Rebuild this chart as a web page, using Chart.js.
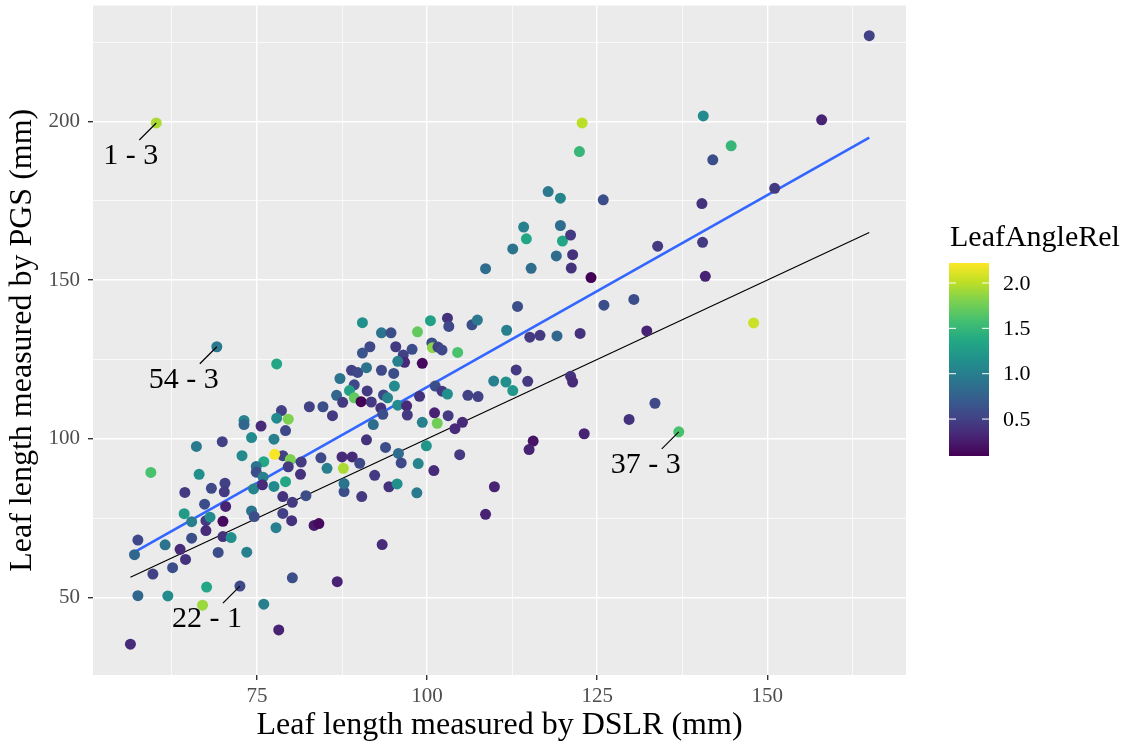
<!DOCTYPE html>
<html>
<head>
<meta charset="utf-8">
<script src="https://cdn.jsdelivr.net/npm/chart.js@4.4.0/dist/chart.umd.min.js"></script>
<style>
  html, body { margin: 0; padding: 0; background: #fff; }
  #wrap { width: 1126px; height: 745px; }
</style>
</head>
<body>
<div id="wrap"><canvas id="myChart" width="1126" height="745"></canvas></div>
<script>
// leaf length by DSLR (x), by PGS (y), relative leaf angle (colour)
const dslr = [60.2,122.8,122.4,117.8,119.6,125.9,114.2,119.6,165.0,140.6,158.0,144.7,142.0,151.1,140.4,
  114.6,119.9,121.1,112.6,119.0,121.4,108.6,115.3,121.2,124.1,113.3,126.0,130.4,111.7,115.1,116.6,119.1,122.5,
  133.9,140.5,140.9,148.0,132.3,133.5,137.0,121.1,121.4,129.7,123.1,115.6,115.0,113.1,114.8,109.8,111.6,112.6,
  90.5,93.3,94.7,98.6,100.5,103.0,103.2,106.6,107.4,91.6,90.5,95.4,97.8,96.5,96.7,95.7,99.3,100.7,100.8,101.6,
  102.2,104.5,93.3,95.1,95.2,88.9,89.8,91.1,87.2,89.3,88.6,89.3,91.2,86.7,90.3,87.6,91.8,93.6,94.2,93.2,93.5,
  95.7,97.0,97.1,98.9,101.2,102.2,103.0,86.1,92.1,99.3,101.1,101.5,103.1,106.0,107.5,104.1,105.2,91.1,93.9,
  95.8,96.2,99.9,98.7,101.0,104.8,92.3,94.4,95.6,98.5,90.4,87.8,87.8,109.9,108.6,93.4,87.5,89.0,87.7,90.1,
  85.3,84.4,81.5,78.8,79.9,77.6,76.0,74.9,74.9,79.6,81.4,75.9,79.2,77.5,74.5,75.8,66.5,59.4,64.4,68.3,70.3,
  70.2,67.3,70.4,64.3,65.4,67.5,68.1,67.5,65.4,70.0,70.0,71.2,74.2,74.6,78.8,80.2,78.8,80.1,82.2,83.4,84.1,
  77.8,69.3,73.5,63.7,64.5,61.5,57.5,57.0,62.6,59.7,67.6,72.5,57.5,61.9,67.0,76.0,80.2,86.8,78.2,56.4,
  69.1,77.9,82.7,84.7,78.6,77.9,79.6,73.1,73.1,75.6,79.2,74.2,77.5,69.9,66.1,72.8];
const pgs = [199.5,199.5,190.5,177.9,175.8,175.3,166.7,167.2,227.0,201.7,200.5,192.3,187.9,178.9,174.1,
  163.0,162.3,164.2,159.8,157.6,158.0,153.6,153.7,153.8,150.8,141.7,142.1,143.9,134.2,132.0,132.6,132.4,133.2,
  160.7,161.9,151.2,136.5,134.0,111.2,102.2,119.7,117.9,106.1,101.6,99.3,96.6,121.7,118.1,118.2,117.9,115.2,
  136.6,133.4,133.4,133.7,137.2,138.0,135.4,135.9,137.4,129.0,127.0,129.0,128.2,126.4,124.1,124.4,123.8,130.2,128.7,128.9,
  128.0,127.2,121.6,120.6,116.6,121.6,120.9,122.4,119.0,117.0,115.2,112.9,115.1,113.7,111.7,111.5,111.6,113.8,112.9,109.7,107.7,
  110.6,110.4,107.5,113.4,116.6,115.0,114.1,107.3,104.5,105.2,108.2,104.9,107.3,113.7,113.3,103.2,105.2,99.7,97.3,
  95.4,92.4,97.8,92.2,90.0,95.0,88.5,84.9,85.8,83.0,81.8,83.4,85.9,84.9,76.2,66.7,94.3,94.3,90.7,92.3,
  90.7,94.0,92.7,94.7,93.5,95.1,92.8,91.3,89.5,91.2,88.8,87.9,86.5,85.0,84.2,85.5,88.8,89.4,83.1,84.4,86.0,
  83.3,79.4,78.7,76.4,73.9,74.2,75.3,71.1,68.7,74.0,69.2,68.9,77.3,75.5,81.8,80.0,76.5,74.2,82.1,72.7,73.3,
  72.0,64.2,64.3,65.2,62.0,66.6,68.1,63.5,59.4,57.4,53.3,53.6,50.6,50.5,47.6,47.9,56.2,55.0,39.8,35.3,
  129.0,123.6,110.1,110.1,108.9,106.5,106.2,105.8,104.5,104.0,102.6,100.4,99.9,99.1,97.6,94.7];
const angleRel = [1.95,2.0,1.5,0.95,1.05,0.6,1.0,0.85,0.5,1.1,0.3,1.5,0.6,0.45,0.4,
  1.35,1.35,0.45,0.9,0.85,0.4,0.85,0.85,0.4,0.1,0.6,0.6,0.6,1.0,0.45,0.45,0.8,0.4,
  0.45,0.45,0.3,2.05,0.3,0.55,1.6,0.4,0.35,0.4,0.3,0.2,0.3,0.45,0.45,1.0,1.15,1.2,
  1.15,0.9,0.6,1.7,1.3,0.4,0.55,0.6,0.95,0.55,0.65,0.45,0.6,0.5,0.35,1.0,0.15,0.6,1.85,0.5,
  0.55,1.6,0.55,0.6,1.1,0.5,0.55,0.9,0.9,0.55,1.3,1.7,0.45,0.8,0.1,0.45,0.45,0.55,1.05,0.4,0.6,
  1.1,0.35,0.45,0.4,0.6,0.45,1.15,0.45,0.85,1.0,0.3,1.75,0.45,0.5,0.5,0.35,0.35,0.4,0.6,
  0.85,0.55,1.2,1.05,0.35,0.45,0.45,0.4,1.15,0.95,0.45,0.6,0.9,0.3,0.3,0.35,0.35,0.35,1.95,0.55,
  1.0,0.55,0.45,0.5,1.8,2.2,1.35,0.9,0.6,0.45,0.4,1.0,1.35,1.1,1.05,0.35,1.15,1.6,0.45,0.55,0.5,
  0.45,0.6,0.3,1.25,1.0,0.45,1.1,0.35,0.6,0.15,0.4,1.15,0.9,0.6,0.4,0.45,0.5,0.4,0.6,0.25,0.15,
  1.0,0.6,1.0,0.35,0.4,0.9,0.55,0.8,0.6,0.5,1.35,0.55,0.8,1.1,1.9,1.0,0.6,0.3,0.3,0.35,
  0.95,1.35,0.5,0.6,0.5,1.1,1.8,1.05,0.8,0.35,0.55,1.1,1.0,0.5,0.95,1.1];

// fitted line (lm) and 1:1 line
const lmX = [56.4, 165.0];
const lmY = [63.6, 194.9];
const refX = [56.4, 165.0];
const refY = [56.4, 165.0];

// labelled leaves
const labelText = ['1 - 3', '54 - 3', '22 - 1', '37 - 3'];
const labelX = [60.2, 69.1, 72.5, 137.0];
const labelY = [199.5, 129.0, 53.6, 102.2];

// axes and colour bar
const xMin = 50.9, xMax = 170.4;
const yMin = 25.6, yMax = 236.5;
const colourMin = 0.093, colourMax = 2.22;
const colourTicks = [0.5, 1.0, 1.5, 2.0];

const viridis = ['#440154','#482475','#414487','#355F8D','#2A788E','#21918C','#22A884','#44BF70','#7AD151','#BDDF26','#FDE725'];

function hexRgb(h) {
  return [parseInt(h.slice(1,3),16), parseInt(h.slice(3,5),16), parseInt(h.slice(5,7),16)];
}
function colourFor(v) {
  let t = (v - colourMin) / (colourMax - colourMin);
  t = Math.max(0, Math.min(1, t)) * (viridis.length - 1);
  const i = Math.min(Math.floor(t), viridis.length - 2);
  const f = t - i;
  const a = hexRgb(viridis[i]), b = hexRgb(viridis[i + 1]);
  const c = a.map((x, k) => Math.round(x + (b[k] - x) * f));
  return 'rgb(' + c.join(',') + ')';
}

const points = dslr.map((x, i) => ({ x: x, y: pgs[i] }));
const pointColours = angleRel.map(colourFor);

const serif = '"Liberation Serif", "DejaVu Serif", serif';
Chart.defaults.font.family = serif;

const panelBg = {
  id: 'panelBg',
  beforeDraw(chart) {
    const a = chart.chartArea, ctx = chart.ctx;
    ctx.save();
    ctx.fillStyle = '#EBEBEB';
    ctx.fillRect(a.left, a.top, a.right - a.left, a.bottom - a.top);
    ctx.restore();
  }
};

const leafLabels = {
  id: 'leafLabels',
  afterDatasetsDraw(chart) {
    const ctx = chart.ctx, sx = chart.scales.x, sy = chart.scales.y;
    ctx.save();
    ctx.strokeStyle = '#000';
    ctx.lineWidth = 1.2;
    ctx.fillStyle = '#000';
    ctx.font = '30px ' + serif;
    ctx.textAlign = 'right';
    ctx.textBaseline = 'middle';
    labelText.forEach((t, i) => {
      const px = sx.getPixelForValue(labelX[i]);
      const py = sy.getPixelForValue(labelY[i]);
      ctx.beginPath();
      ctx.moveTo(px, py);
      ctx.lineTo(px - 17, py + 17);
      ctx.stroke();
      ctx.fillText(t, px + 2, py + 33);
    });
    ctx.restore();
  }
};

const colourBar = {
  id: 'colourBar',
  afterDraw(chart) {
    const ctx = chart.ctx;
    const left = 949, w = 40, top = 263, bottom = 456;
    ctx.save();
    ctx.fillStyle = '#000';
    ctx.font = '30px ' + serif;
    ctx.textAlign = 'left';
    ctx.textBaseline = 'alphabetic';
    ctx.fillText('LeafAngleRel', 950, 246);
    const g = ctx.createLinearGradient(0, bottom, 0, top);
    viridis.forEach((c, i) => g.addColorStop(i / (viridis.length - 1), c));
    ctx.fillStyle = g;
    ctx.fillRect(left, top, w, bottom - top);
    ctx.font = '22px ' + serif;
    ctx.textBaseline = 'middle';
    ctx.strokeStyle = '#fff';
    ctx.lineWidth = 1;
    colourTicks.forEach(v => {
      const y = bottom - (v - colourMin) / (colourMax - colourMin) * (bottom - top);
      ctx.beginPath();
      ctx.moveTo(left, y); ctx.lineTo(left + 7, y);
      ctx.moveTo(left + w - 7, y); ctx.lineTo(left + w, y);
      ctx.stroke();
      ctx.fillStyle = '#000';
      ctx.fillText(v.toFixed(1), 1003, y + 1);
    });
    ctx.restore();
  }
};

function noPad(s) {
  s.paddingTop = 0; s.paddingBottom = 0; s.paddingLeft = 0; s.paddingRight = 0;
}

const ctx = document.getElementById('myChart');
new Chart(ctx, {
  type: 'scatter',
  data: {
    datasets: [{
      data: points,
      backgroundColor: pointColours,
      borderWidth: 0,
      pointRadius: 5.5,
      pointHoverRadius: 5.5,
      order: 0
    }, {
      data: lmX.map((x, i) => ({ x: x, y: lmY[i] })),
      showLine: true,
      borderColor: '#3366FF',
      borderWidth: 2.6,
      pointRadius: 0,
      order: 1
    }, {
      data: refX.map((x, i) => ({ x: x, y: refY[i] })),
      showLine: true,
      borderColor: '#000000',
      borderWidth: 1.2,
      pointRadius: 0,
      order: 2
    }]
  },
  options: {
    responsive: false,
    animation: false,
    devicePixelRatio: 1,
    layout: { padding: { left: 0, top: 3, right: 220, bottom: 0 } },
    plugins: { legend: { display: false }, tooltip: { enabled: false } },
    scales: {
      x: {
        type: 'linear',
        min: xMin,
        max: xMax,
        afterFit(s) { s.height = 70; noPad(s); },
        border: { display: false },
        grid: {
          color: '#FFFFFF',
          lineWidth: c => (c.tick && c.tick.value % 25 === 0) ? 1.4 : 0.7,
          tickColor: c => (c.tick && c.tick.value % 25 === 0) ? '#333333' : 'rgba(0,0,0,0)',
          tickLength: 5,
          drawTicks: true
        },
        ticks: {
          stepSize: 12.5,
          includeBounds: false,
          autoSkip: false,
          maxRotation: 0,
          color: '#4D4D4D',
          font: { size: 21 },
          padding: 4,
          callback: v => v % 25 === 0 ? String(v) : ''
        },
        title: {
          display: true,
          text: 'Leaf length measured by DSLR (mm)',
          color: '#000',
          font: { size: 32 },
          padding: { top: 0, bottom: 0 }
        }
      },
      y: {
        type: 'linear',
        min: yMin,
        max: yMax,
        afterFit(s) { s.width = 93; noPad(s); },
        border: { display: false },
        grid: {
          color: '#FFFFFF',
          lineWidth: c => (c.tick && c.tick.value % 50 === 0) ? 1.4 : 0.7,
          tickColor: c => (c.tick && c.tick.value % 50 === 0) ? '#333333' : 'rgba(0,0,0,0)',
          tickLength: 5,
          drawTicks: true
        },
        ticks: {
          stepSize: 25,
          includeBounds: false,
          autoSkip: false,
          color: '#4D4D4D',
          font: { size: 21 },
          padding: 8,
          callback: v => v % 50 === 0 ? String(v) : ''
        },
        title: {
          display: true,
          text: 'Leaf length measured by PGS (mm)',
          color: '#000',
          font: { size: 32 },
          padding: { top: 3, bottom: 0 }
        }
      }
    }
  },
  plugins: [panelBg, leafLabels, colourBar]
});
</script>
</body>
</html>
